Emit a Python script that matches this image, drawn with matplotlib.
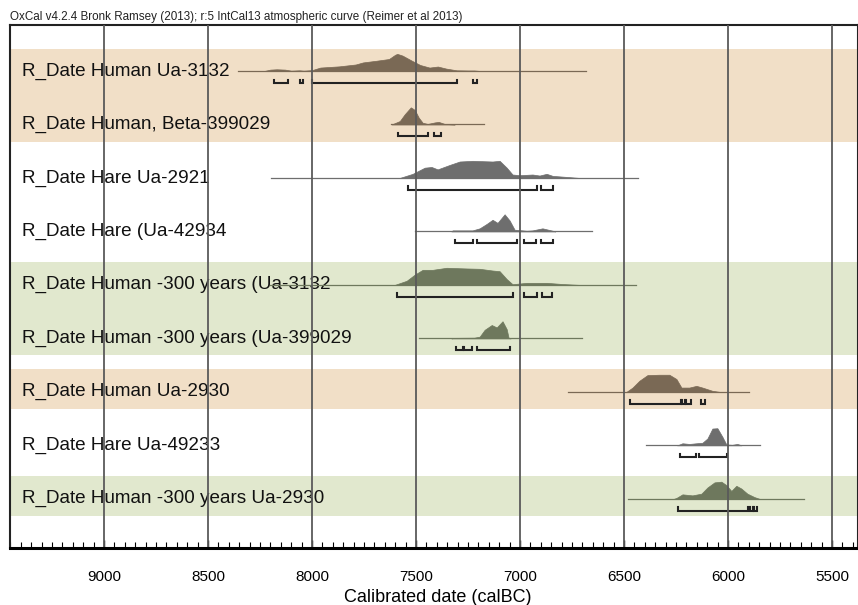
import matplotlib
matplotlib.use("Agg")
import matplotlib.pyplot as plt
from matplotlib.ticker import MultipleLocator

plt.rcParams["font.family"] = ["Liberation Sans", "DejaVu Sans"]

# --- data (calBC; heights relative to each row's peak) ---
labels = [
    "R_Date Human Ua-3132",
    "R_Date Human, Beta-399029",
    "R_Date Hare Ua-2921",
    "R_Date Hare (Ua-42934",
    "R_Date Human -300 years (Ua-3132",
    "R_Date Human -300 years (Ua-399029",
    "R_Date Human Ua-2930",
    "R_Date Hare Ua-49233",
    "R_Date Human -300 years Ua-2930",
]
kinds = ["human", "human", "hare", "hare", "shift", "shift", "human", "hare", "shift"]
line_start = [8355, 7620, 8195, 7505, 8200, 7487, 6770, 6392, 6483]
line_end = [6685, 7175, 6435, 6652, 6440, 6700, 5897, 5844, 5633]

ua3132_x = [8230, 8200, 8170, 8130, 8100, 8060, 8040, 8000, 7960, 7870, 7790, 7755,
            7690, 7630, 7600, 7590, 7565, 7520, 7480, 7435, 7395, 7355, 7305, 7250, 7220, 7190]
ua3132_y = [0, 0.08, 0.1, 0.08, 0.02, 0.04, 0.02, 0.05, 0.2, 0.27, 0.38, 0.5,
            0.6, 0.7, 0.95, 1.0, 0.9, 0.6, 0.35, 0.2, 0.26, 0.14, 0.04, 0.03, 0.03, 0]
beta_x = [7617, 7578, 7554, 7525, 7506, 7487, 7468, 7444, 7410, 7391, 7362, 7314]
beta_y = [0, 0.2, 0.6, 1.0, 0.85, 0.4, 0.1, 0.03, 0.12, 0.15, 0.03, 0]
ua2921_x = [7578, 7516, 7458, 7425, 7396, 7338, 7290, 7228, 7132, 7098, 7064, 7036,
            7002, 6940, 6906, 6872, 6843, 6776, 6714]
ua2921_y = [0, 0.24, 0.6, 0.64, 0.5, 0.76, 0.96, 1.0, 0.96, 1.0, 0.6, 0.2,
            0.16, 0.2, 0.14, 0.24, 0.12, 0.06, 0]
ua42934_x = [7330, 7324, 7228, 7194, 7160, 7132, 7108, 7074, 7050, 7026, 6968, 6940,
             6892, 6843, 6830]
ua42934_y = [0, 0.06, 0.06, 0.18, 0.44, 0.68, 0.5, 1.0, 0.64, 0.1, 0.04, 0.06,
             0.18, 0.04, 0]
ua3132s_x = [7602, 7545, 7506, 7468, 7420, 7353, 7257, 7194, 7132, 7098, 7064, 7036,
             6968, 6872, 6795, 6714]
ua3132s_y = [0, 0.24, 0.6, 0.88, 0.88, 1.0, 0.96, 0.94, 0.84, 0.8, 0.34, 0.04,
             0.12, 0.12, 0.05, 0]
ua399029s_x = [7330, 7314, 7220, 7194, 7170, 7136, 7112, 7084, 7064, 7055, 7045]
ua399029s_y = [0, 0.03, 0.04, 0.1, 0.5, 0.78, 0.64, 1.0, 0.54, 0.04, 0]
ua2930_x = [6488, 6459, 6426, 6387, 6330, 6282, 6248, 6224, 6186, 6152, 6123, 6075, 6041]
ua2930_y = [0, 0.25, 0.65, 0.98, 1.0, 1.0, 0.75, 0.25, 0.25, 0.35, 0.25, 0.06, 0]
ua49233_x = [6245, 6233, 6219, 6186, 6152, 6123, 6099, 6075, 6051, 6027, 6008, 5980,
             5955, 5935]
ua49233_y = [0, 0.05, 0.12, 0.08, 0.12, 0.15, 0.4, 0.98, 1.0, 0.5, 0.05, 0.03,
             0.08, 0]
ua2930s_x = [6260, 6248, 6219, 6171, 6128, 6099, 6065, 6032, 6008, 5984, 5960, 5936,
             5907, 5873, 5849]
ua2930s_y = [0, 0.05, 0.26, 0.2, 0.3, 0.66, 0.96, 1.0, 0.8, 0.46, 0.76, 0.6,
             0.3, 0.1, 0]

ua3132_ranges = [(8183, 8116), (8059, 8044), (8001, 7305), (7228, 7208)]
beta_ranges = [(7588, 7444), (7415, 7381)]
ua2921_ranges = [(7540, 6916), (6901, 6839)]
ua42934_ranges = [(7314, 7228), (7208, 7016), (6983, 6925), (6901, 6843)]
ua3132s_ranges = [(7593, 7036), (6983, 6920), (6892, 6848)]
ua399029s_ranges = [(7310, 7275), (7270, 7232), (7205, 7050)]
ua2930_ranges = [(6470, 6225), (6220, 6205), (6200, 6180), (6130, 6110)]
ua49233_ranges = [(6229, 6152), (6138, 6003)]
ua2930s_ranges = [(6240, 5905), (5895, 5880), (5875, 5860)]

dens_x = [ua3132_x, beta_x, ua2921_x, ua42934_x, ua3132s_x, ua399029s_x,
          ua2930_x, ua49233_x, ua2930s_x]
dens_y = [ua3132_y, beta_y, ua2921_y, ua42934_y, ua3132s_y, ua399029s_y,
          ua2930_y, ua49233_y, ua2930s_y]
ranges = [ua3132_ranges, beta_ranges, ua2921_ranges, ua42934_ranges, ua3132s_ranges,
          ua399029s_ranges, ua2930_ranges, ua49233_ranges, ua2930s_ranges]

# shaded groups: (first row, last row, kind)
bands = [(0, 1, "human"), (4, 5, "shift"), (6, 6, "human"), (8, 8, "shift")]

band_colors = {"human": "#F1DFC7", "shift": "#E1E8CE"}
mark_colors = {"human": "#7A6955", "hare": "#6E6E6E", "shift": "#6E785D"}

fig = plt.figure(figsize=(8.58, 6.05), dpi=100)
ax = fig.add_axes((10 / 858, 1 - 548 / 605, 848 / 858, 523 / 605))

ax.set_xlim(9452, 5375)
ax.set_ylim(8.92, -0.86)

peak_h = 0.32
bracket_off = 0.22
tick_h = 0.06

for first, last, kind in bands:
    ax.axhspan(first - 0.42, last + 0.32, color=band_colors[kind], lw=0, zorder=0)

for i, lab in enumerate(labels):
    c = mark_colors[kinds[i]]
    ax.text(9395, i, lab, fontsize=13.6, color="#111111", va="center", ha="left", zorder=2)
    ax.plot([line_start[i], line_end[i]], [i, i], color=c, lw=0.9, zorder=3)
    ax.fill_between(dens_x[i], [i - peak_h * h for h in dens_y[i]], i,
                    color=c, lw=0.5, zorder=3)
    yb = i + bracket_off
    for a, b in ranges[i]:
        ax.plot([a, a, b, b], [yb - tick_h, yb, yb, yb - tick_h],
                color="#222222", lw=1.5, solid_joinstyle="miter", zorder=4)

for d in range(5500, 9001, 500):
    ax.axvline(d, color="#5a5a5a", lw=1.3, zorder=5)

ax.set_yticks([])
ax.xaxis.set_major_locator(MultipleLocator(500))
ax.xaxis.set_minor_locator(MultipleLocator(50))
ax.tick_params(axis="x", which="major", direction="in", length=6, width=1,
               labelsize=11, pad=16)
ax.tick_params(axis="x", which="minor", direction="in", length=4, width=0.8)

for side in ("left", "top", "right"):
    ax.spines[side].set_linewidth(1.5)
    ax.spines[side].set_color("#222222")
ax.spines["bottom"].set_linewidth(2.2)
ax.spines["bottom"].set_zorder(6)

fig.text(438 / 858, 1 - 597 / 605, "Calibrated date (calBC)", fontsize=13,
         ha="center", va="center")
fig.text(10 / 858, 1 - 17 / 605,
         "OxCal v4.2.4 Bronk Ramsey (2013); r:5 IntCal13 atmospheric curve (Reimer et al 2013)",
         fontsize=8.4, color="#222222", va="center", ha="left")

fig.savefig("out.png", dpi=100, facecolor="white")
